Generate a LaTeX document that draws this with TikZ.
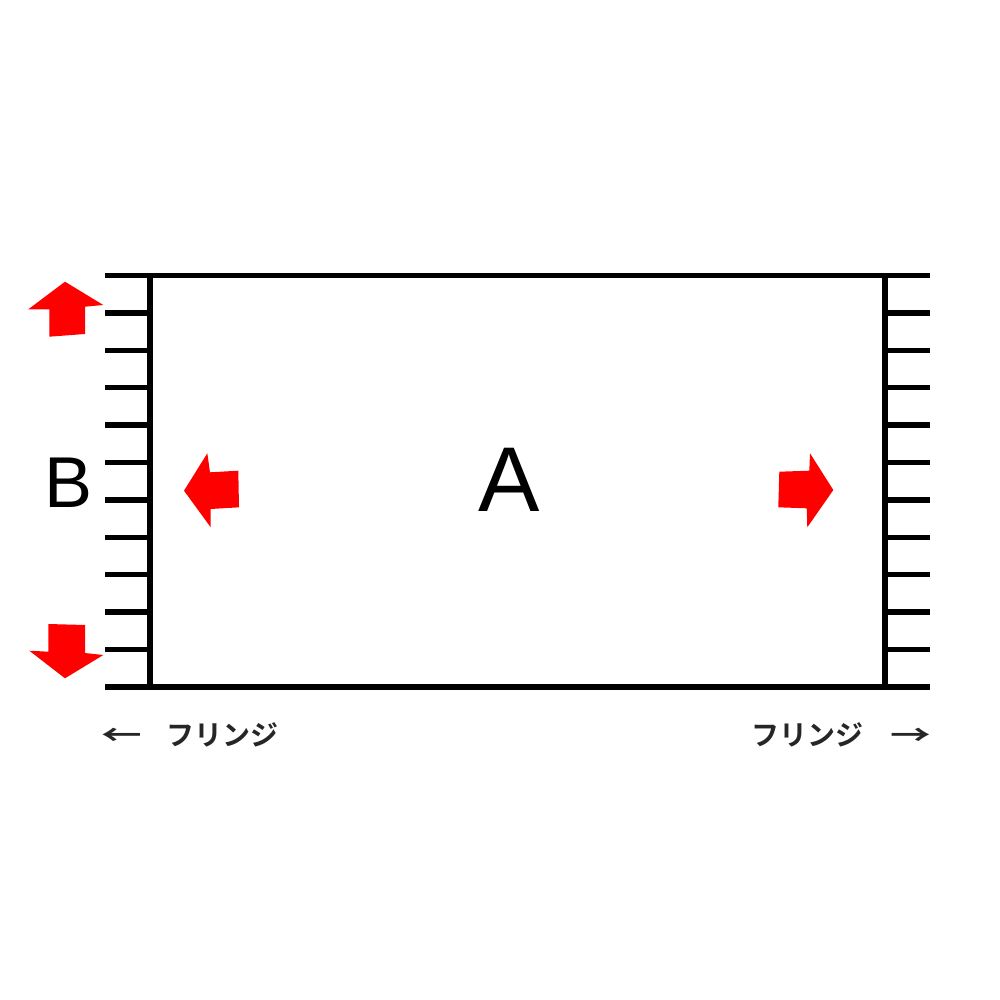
\documentclass[tikz,border=0pt]{standalone}
\usepackage{fontspec}
\setmainfont{Liberation Sans}
\newfontfamily\jpfont{Noto Sans CJK JP}[BoldFont={* Bold}]
\definecolor{arrowred}{RGB}{255,0,0}
\begin{document}
\begin{tikzpicture}[x=1pt,y=-1pt,
  bar/.style={line width=5.5pt,black,line cap=butt},
  redarrow/.style={fill=arrowred,draw=none},
  biglabel/.style={inner sep=0pt,font=\fontsize{92}{92}\selectfont},
  midlabel/.style={inner sep=0pt,font=\fontsize{72}{72}\selectfont},
  fringe/.style={inner sep=0pt,anchor=base,text=black!85,font=\jpfont\fontsize{28}{28}\selectfont\bfseries},
  fringearrow/.style={inner sep=0pt,anchor=base,text=black!85,font=\jpfont\fontsize{28}{28}\selectfont\bfseries}
]
\useasboundingbox[fill=white] (0,0) rectangle (1000,1000);
% frame
\draw[bar] (105,275.5) -- (930,275.5);
\draw[bar] (105,687) -- (930,687);
\draw[bar] (150,275.5) -- (150,687);
\draw[bar] (885,275.5) -- (885,687);
% fringe ticks
\foreach \i in {1,...,10}{
  \draw[bar] (105,{275.5+37.4*\i}) -- (150,{275.5+37.4*\i});
  \draw[bar] (885,{275.5+37.4*\i}) -- (930,{275.5+37.4*\i});
}
% red arrows
\fill[redarrow] (65,281.7) -- (103.3,305) -- (85,306.7) -- (85,334) -- (49.3,336.7) -- (49.3,309.3) -- (28.3,309.3) -- cycle;
\fill[redarrow] (48.3,624) -- (85,625) -- (85,653) -- (103.3,655) -- (65,678.3) -- (29.3,650.7) -- (48.3,651.7) -- cycle;
\fill[redarrow] (184,490.7) -- (207.3,453.3) -- (210,472.3) -- (238.3,470.7) -- (239,507.3) -- (210.7,509) -- (210.7,527.3) -- cycle;
\fill[redarrow] (779.3,471.7) -- (809.3,470.7) -- (810,453.3) -- (833.3,490) -- (807.3,527.3) -- (806.7,508.3) -- (778.3,507.3) -- cycle;
% labels
\node[biglabel] (A) at (509,479.7) {A};
\node[midlabel] (B) at (69,482.5) {B};
\node[fringe,anchor=base west] (fl) at (166,745) {フリンジ};
\node[fringearrow] (al) at (122,745) {\scalebox{1.45}[1]{←}};
\node[fringe,anchor=base east] (fr) at (864,745) {フリンジ};
\node[fringearrow] (ar) at (911,745) {\scalebox{1.45}[1]{→}};
\end{tikzpicture}
\end{document}
